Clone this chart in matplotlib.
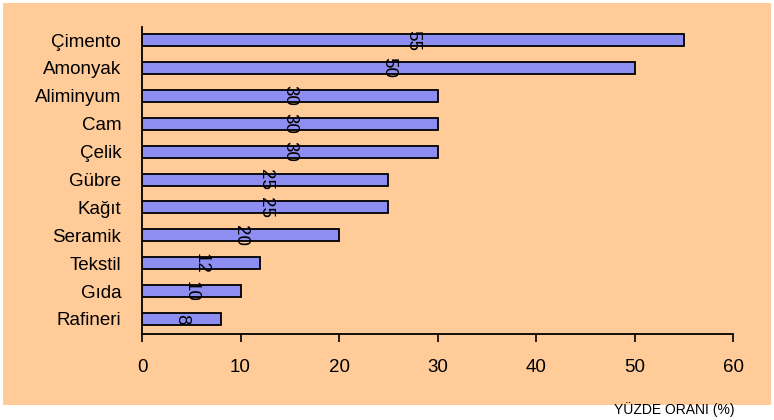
import matplotlib.pyplot as plt
import matplotlib.patches as patches

categories = ["Çimento", "Amonyak", "Aliminyum", "Cam", "Çelik", "Gübre",
              "Kağıt", "Seramik", "Tekstil", "Gıda", "Rafineri"]
values = [55, 50, 30, 30, 30, 25, 25, 20, 12, 10, 8]

plt.rcParams['font.family'] = ['Liberation Sans', 'DejaVu Sans']

fig = plt.figure(figsize=(7.74, 4.2), dpi=100)
fig.patch.set_facecolor("white")

# peach chart area behind everything
bg = patches.Rectangle((3 / 774, 15 / 420), 768 / 774, 402 / 420,
                       transform=fig.transFigure, facecolor="#FFCC99",
                       edgecolor="none", zorder=-1)
fig.patches.append(bg)

ax = fig.add_axes([142 / 774, 86 / 420, 591 / 774, 307 / 420])
ax.set_facecolor("none")

pos = list(range(len(categories)))[::-1]
ax.barh(pos, values, height=0.43, color="#8E8EF2", edgecolor="black",
        linewidth=1.3, zorder=2)

for p, v in zip(pos, values):
    ax.text(v / 2, p, str(v), rotation=-90, ha="center", va="center",
            fontsize=13.5, zorder=3)

ax.set_xlim(0, 60)
ax.set_ylim(-0.54, len(categories) - 1 + 0.47)
ax.set_xticks(range(0, 61, 10))
ax.set_yticks(pos)
ax.set_yticklabels(categories, fontsize=13.5)
ax.tick_params(axis="y", length=0, pad=15)
ax.tick_params(axis="x", direction="out", length=6, width=1.2, pad=12,
               labelsize=13.5)
for side in ["top", "right"]:
    ax.spines[side].set_visible(False)
for side in ["left", "bottom"]:
    ax.spines[side].set_linewidth(1.3)

fig.text(735 / 774, 10 / 420, "YÜZDE ORANI (%)", ha="right", va="center",
         fontsize=10)

fig.savefig("out.png", dpi=100)
